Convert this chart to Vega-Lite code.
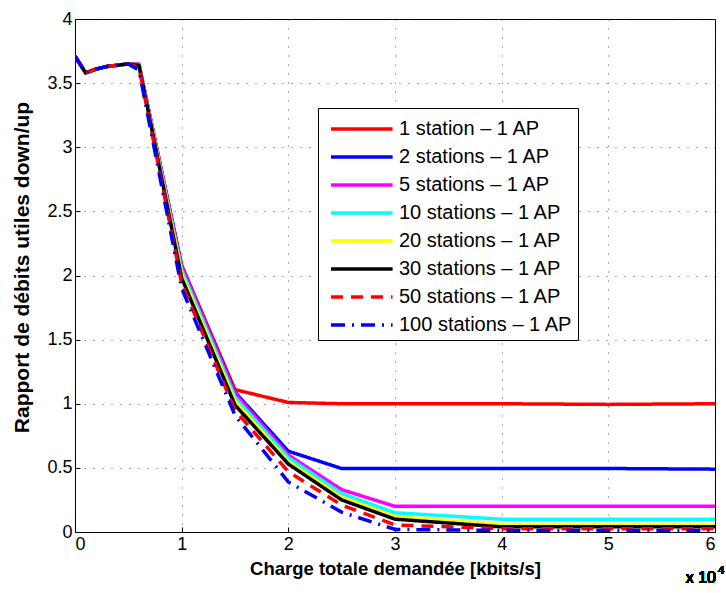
{
  "$schema": "https://vega.github.io/schema/vega-lite/v6.json",
  "autosize": {"type": "none"},
  "padding": {"left": 75, "top": 19, "right": 11, "bottom": 60},
  "width": 640,
  "height": 513,
  "background": "white",
  "config": {
    "font": "Liberation Sans",
    "view": {"stroke": "black", "strokeWidth": 1},
    "axis": {
      "domainColor": "black",
      "tickColor": "black",
      "labelColor": "black",
      "titleColor": "black",
      "labelFont": "Liberation Sans",
      "titleFont": "Liberation Sans",
      "labelFontSize": 18,
      "titleFontSize": 18,
      "titleFontWeight": "bold",
      "gridColor": "#333",
      "gridDash": [1, 8],
      "gridWidth": 1,
      "gridOpacity": 0.8
    }
  },
  "data": {
    "values": [
      {"charge": 0, "rapport": 3.71, "serie": "1 station – 1 AP"},
      {"charge": 1000, "rapport": 3.58, "serie": "1 station – 1 AP"},
      {"charge": 2000, "rapport": 3.61, "serie": "1 station – 1 AP"},
      {"charge": 3000, "rapport": 3.63, "serie": "1 station – 1 AP"},
      {"charge": 4000, "rapport": 3.64, "serie": "1 station – 1 AP"},
      {"charge": 5000, "rapport": 3.65, "serie": "1 station – 1 AP"},
      {"charge": 6000, "rapport": 3.64, "serie": "1 station – 1 AP"},
      {"charge": 10000, "rapport": 2.08, "serie": "1 station – 1 AP"},
      {"charge": 15000, "rapport": 1.11, "serie": "1 station – 1 AP"},
      {"charge": 20000, "rapport": 1.01, "serie": "1 station – 1 AP"},
      {"charge": 25000, "rapport": 1.0, "serie": "1 station – 1 AP"},
      {"charge": 30000, "rapport": 1.0, "serie": "1 station – 1 AP"},
      {"charge": 40000, "rapport": 1.0, "serie": "1 station – 1 AP"},
      {"charge": 50000, "rapport": 0.995, "serie": "1 station – 1 AP"},
      {"charge": 60000, "rapport": 1.0, "serie": "1 station – 1 AP"},

      {"charge": 0, "rapport": 3.71, "serie": "2 stations – 1 AP"},
      {"charge": 1000, "rapport": 3.58, "serie": "2 stations – 1 AP"},
      {"charge": 2000, "rapport": 3.61, "serie": "2 stations – 1 AP"},
      {"charge": 3000, "rapport": 3.63, "serie": "2 stations – 1 AP"},
      {"charge": 4000, "rapport": 3.64, "serie": "2 stations – 1 AP"},
      {"charge": 5000, "rapport": 3.65, "serie": "2 stations – 1 AP"},
      {"charge": 6000, "rapport": 3.64, "serie": "2 stations – 1 AP"},
      {"charge": 10000, "rapport": 2.07, "serie": "2 stations – 1 AP"},
      {"charge": 15000, "rapport": 1.09, "serie": "2 stations – 1 AP"},
      {"charge": 20000, "rapport": 0.63, "serie": "2 stations – 1 AP"},
      {"charge": 25000, "rapport": 0.495, "serie": "2 stations – 1 AP"},
      {"charge": 30000, "rapport": 0.495, "serie": "2 stations – 1 AP"},
      {"charge": 40000, "rapport": 0.495, "serie": "2 stations – 1 AP"},
      {"charge": 50000, "rapport": 0.495, "serie": "2 stations – 1 AP"},
      {"charge": 60000, "rapport": 0.49, "serie": "2 stations – 1 AP"},

      {"charge": 0, "rapport": 3.71, "serie": "5 stations – 1 AP"},
      {"charge": 1000, "rapport": 3.58, "serie": "5 stations – 1 AP"},
      {"charge": 2000, "rapport": 3.61, "serie": "5 stations – 1 AP"},
      {"charge": 3000, "rapport": 3.63, "serie": "5 stations – 1 AP"},
      {"charge": 4000, "rapport": 3.64, "serie": "5 stations – 1 AP"},
      {"charge": 5000, "rapport": 3.65, "serie": "5 stations – 1 AP"},
      {"charge": 6000, "rapport": 3.65, "serie": "5 stations – 1 AP"},
      {"charge": 10000, "rapport": 2.07, "serie": "5 stations – 1 AP"},
      {"charge": 15000, "rapport": 1.08, "serie": "5 stations – 1 AP"},
      {"charge": 20000, "rapport": 0.6, "serie": "5 stations – 1 AP"},
      {"charge": 25000, "rapport": 0.33, "serie": "5 stations – 1 AP"},
      {"charge": 30000, "rapport": 0.2, "serie": "5 stations – 1 AP"},
      {"charge": 40000, "rapport": 0.2, "serie": "5 stations – 1 AP"},
      {"charge": 50000, "rapport": 0.2, "serie": "5 stations – 1 AP"},
      {"charge": 60000, "rapport": 0.2, "serie": "5 stations – 1 AP"},

      {"charge": 0, "rapport": 3.71, "serie": "10 stations – 1 AP"},
      {"charge": 1000, "rapport": 3.58, "serie": "10 stations – 1 AP"},
      {"charge": 2000, "rapport": 3.61, "serie": "10 stations – 1 AP"},
      {"charge": 3000, "rapport": 3.63, "serie": "10 stations – 1 AP"},
      {"charge": 4000, "rapport": 3.64, "serie": "10 stations – 1 AP"},
      {"charge": 5000, "rapport": 3.65, "serie": "10 stations – 1 AP"},
      {"charge": 6000, "rapport": 3.64, "serie": "10 stations – 1 AP"},
      {"charge": 10000, "rapport": 2.04, "serie": "10 stations – 1 AP"},
      {"charge": 15000, "rapport": 1.05, "serie": "10 stations – 1 AP"},
      {"charge": 20000, "rapport": 0.58, "serie": "10 stations – 1 AP"},
      {"charge": 25000, "rapport": 0.3, "serie": "10 stations – 1 AP"},
      {"charge": 30000, "rapport": 0.15, "serie": "10 stations – 1 AP"},
      {"charge": 40000, "rapport": 0.1, "serie": "10 stations – 1 AP"},
      {"charge": 50000, "rapport": 0.1, "serie": "10 stations – 1 AP"},
      {"charge": 60000, "rapport": 0.1, "serie": "10 stations – 1 AP"},

      {"charge": 0, "rapport": 3.71, "serie": "20 stations – 1 AP"},
      {"charge": 1000, "rapport": 3.58, "serie": "20 stations – 1 AP"},
      {"charge": 2000, "rapport": 3.61, "serie": "20 stations – 1 AP"},
      {"charge": 3000, "rapport": 3.63, "serie": "20 stations – 1 AP"},
      {"charge": 4000, "rapport": 3.64, "serie": "20 stations – 1 AP"},
      {"charge": 5000, "rapport": 3.65, "serie": "20 stations – 1 AP"},
      {"charge": 6000, "rapport": 3.64, "serie": "20 stations – 1 AP"},
      {"charge": 10000, "rapport": 2.01, "serie": "20 stations – 1 AP"},
      {"charge": 15000, "rapport": 1.02, "serie": "20 stations – 1 AP"},
      {"charge": 20000, "rapport": 0.55, "serie": "20 stations – 1 AP"},
      {"charge": 25000, "rapport": 0.27, "serie": "20 stations – 1 AP"},
      {"charge": 30000, "rapport": 0.12, "serie": "20 stations – 1 AP"},
      {"charge": 40000, "rapport": 0.058, "serie": "20 stations – 1 AP"},
      {"charge": 50000, "rapport": 0.058, "serie": "20 stations – 1 AP"},
      {"charge": 60000, "rapport": 0.058, "serie": "20 stations – 1 AP"},

      {"charge": 0, "rapport": 3.71, "serie": "30 stations – 1 AP"},
      {"charge": 1000, "rapport": 3.58, "serie": "30 stations – 1 AP"},
      {"charge": 2000, "rapport": 3.61, "serie": "30 stations – 1 AP"},
      {"charge": 3000, "rapport": 3.63, "serie": "30 stations – 1 AP"},
      {"charge": 4000, "rapport": 3.64, "serie": "30 stations – 1 AP"},
      {"charge": 5000, "rapport": 3.65, "serie": "30 stations – 1 AP"},
      {"charge": 6000, "rapport": 3.64, "serie": "30 stations – 1 AP"},
      {"charge": 10000, "rapport": 1.98, "serie": "30 stations – 1 AP"},
      {"charge": 15000, "rapport": 0.99, "serie": "30 stations – 1 AP"},
      {"charge": 20000, "rapport": 0.53, "serie": "30 stations – 1 AP"},
      {"charge": 25000, "rapport": 0.25, "serie": "30 stations – 1 AP"},
      {"charge": 30000, "rapport": 0.1, "serie": "30 stations – 1 AP"},
      {"charge": 40000, "rapport": 0.04, "serie": "30 stations – 1 AP"},
      {"charge": 50000, "rapport": 0.04, "serie": "30 stations – 1 AP"},
      {"charge": 60000, "rapport": 0.04, "serie": "30 stations – 1 AP"},

      {"charge": 0, "rapport": 3.71, "serie": "50 stations – 1 AP"},
      {"charge": 1000, "rapport": 3.58, "serie": "50 stations – 1 AP"},
      {"charge": 2000, "rapport": 3.61, "serie": "50 stations – 1 AP"},
      {"charge": 3000, "rapport": 3.63, "serie": "50 stations – 1 AP"},
      {"charge": 4000, "rapport": 3.64, "serie": "50 stations – 1 AP"},
      {"charge": 5000, "rapport": 3.65, "serie": "50 stations – 1 AP"},
      {"charge": 6000, "rapport": 3.62, "serie": "50 stations – 1 AP"},
      {"charge": 10000, "rapport": 1.94, "serie": "50 stations – 1 AP"},
      {"charge": 15000, "rapport": 0.95, "serie": "50 stations – 1 AP"},
      {"charge": 20000, "rapport": 0.47, "serie": "50 stations – 1 AP"},
      {"charge": 25000, "rapport": 0.21, "serie": "50 stations – 1 AP"},
      {"charge": 30000, "rapport": 0.055, "serie": "50 stations – 1 AP"},
      {"charge": 40000, "rapport": 0.025, "serie": "50 stations – 1 AP"},
      {"charge": 50000, "rapport": 0.025, "serie": "50 stations – 1 AP"},
      {"charge": 60000, "rapport": 0.025, "serie": "50 stations – 1 AP"},

      {"charge": 0, "rapport": 3.71, "serie": "100 stations – 1 AP"},
      {"charge": 1000, "rapport": 3.58, "serie": "100 stations – 1 AP"},
      {"charge": 2000, "rapport": 3.61, "serie": "100 stations – 1 AP"},
      {"charge": 3000, "rapport": 3.63, "serie": "100 stations – 1 AP"},
      {"charge": 4000, "rapport": 3.64, "serie": "100 stations – 1 AP"},
      {"charge": 5000, "rapport": 3.65, "serie": "100 stations – 1 AP"},
      {"charge": 6000, "rapport": 3.6, "serie": "100 stations – 1 AP"},
      {"charge": 10000, "rapport": 1.9, "serie": "100 stations – 1 AP"},
      {"charge": 15000, "rapport": 0.91, "serie": "100 stations – 1 AP"},
      {"charge": 20000, "rapport": 0.39, "serie": "100 stations – 1 AP"},
      {"charge": 25000, "rapport": 0.155, "serie": "100 stations – 1 AP"},
      {"charge": 30000, "rapport": 0.02, "serie": "100 stations – 1 AP"},
      {"charge": 40000, "rapport": 0.012, "serie": "100 stations – 1 AP"},
      {"charge": 50000, "rapport": 0.012, "serie": "100 stations – 1 AP"},
      {"charge": 60000, "rapport": 0.012, "serie": "100 stations – 1 AP"}
    ]
  },
  "layer": [
    {
      "mark": {"type": "line", "strokeWidth": 3.5, "strokeJoin": "round", "clip": true},
      "encoding": {
        "x": {
          "field": "charge",
          "type": "quantitative",
          "scale": {"domain": [0, 60000], "nice": false},
          "axis": {
            "values": [0, 10000, 20000, 30000, 40000, 50000, 60000],
            "labelExpr": "datum.value / 10000",
            "title": "Charge totale demandée [kbits/s]",
            "titleFontSize": 18.5,
            "grid": true,
            "tickSize": -5,
            "labelPadding": 8,
            "titlePadding": 6
          }
        },
        "y": {
          "field": "rapport",
          "type": "quantitative",
          "scale": {"domain": [0, 4], "nice": false},
          "axis": {
            "values": [0, 0.5, 1, 1.5, 2, 2.5, 3, 3.5, 4],
            "format": "~g",
            "title": "Rapport de débits utiles down/up",
            "titleFontSize": 21,
            "titleY": 248,
            "grid": true,
            "tickSize": -5,
            "labelPadding": 8,
            "titlePadding": 14
          }
        },
        "color": {
          "field": "serie",
          "type": "nominal",
          "scale": {
            "domain": ["1 station – 1 AP", "2 stations – 1 AP", "5 stations – 1 AP", "10 stations – 1 AP", "20 stations – 1 AP", "30 stations – 1 AP", "50 stations – 1 AP", "100 stations – 1 AP"],
            "range": ["#ff0000", "#0000ff", "#ff00ff", "#00ffff", "#ffff00", "#000000", "#ff0000", "#0000ff"]
          },
          "legend": {
            "title": null,
            "orient": "none",
            "legendX": 243,
            "legendY": 89,
            "symbolType": "M-2.2,0H2.2",
            "symbolSize": 784,
            "symbolStrokeWidth": 3.5,
            "labelFontSize": 20,
            "labelFont": "Liberation Sans",
            "labelColor": "black",
            "labelOffset": 24,
            "rowPadding": 2,
            "padding": 5,
            "strokeColor": "black",
            "fillColor": "white",
            "labelLimit": 300,
            "encode": {
              "symbols": {"update": {"x": {"value": 38.8}}},
              "labels": {"update": {"x": {"value": 76}}}
            }
          }
        },
        "strokeDash": {
          "field": "serie",
          "type": "nominal",
          "scale": {
            "domain": ["1 station – 1 AP", "2 stations – 1 AP", "5 stations – 1 AP", "10 stations – 1 AP", "20 stations – 1 AP", "30 stations – 1 AP", "50 stations – 1 AP", "100 stations – 1 AP"],
            "range": [[1, 0], [1, 0], [1, 0], [1, 0], [1, 0], [1, 0], [12, 8], [14, 7, 2, 7]]
          },
          "legend": null
        }
      }
    },
    {
      "mark": {"type": "text", "text": "x 10", "align": "right", "baseline": "alphabetic", "fontSize": 16, "fontWeight": "normal", "font": "Liberation Sans", "dx": 1, "clip": false},
      "encoding": {
        "x": {"datum": 60000, "type": "quantitative"},
        "y": {"datum": -0.4, "type": "quantitative"}
      }
    },
    {
      "mark": {"type": "text", "text": "4", "align": "left", "baseline": "alphabetic", "fontSize": 11, "fontWeight": "normal", "font": "Liberation Sans", "dx": 3, "dy": -9, "clip": false},
      "encoding": {
        "x": {"datum": 60000, "type": "quantitative"},
        "y": {"datum": -0.4, "type": "quantitative"}
      }
    }
  ]
}
